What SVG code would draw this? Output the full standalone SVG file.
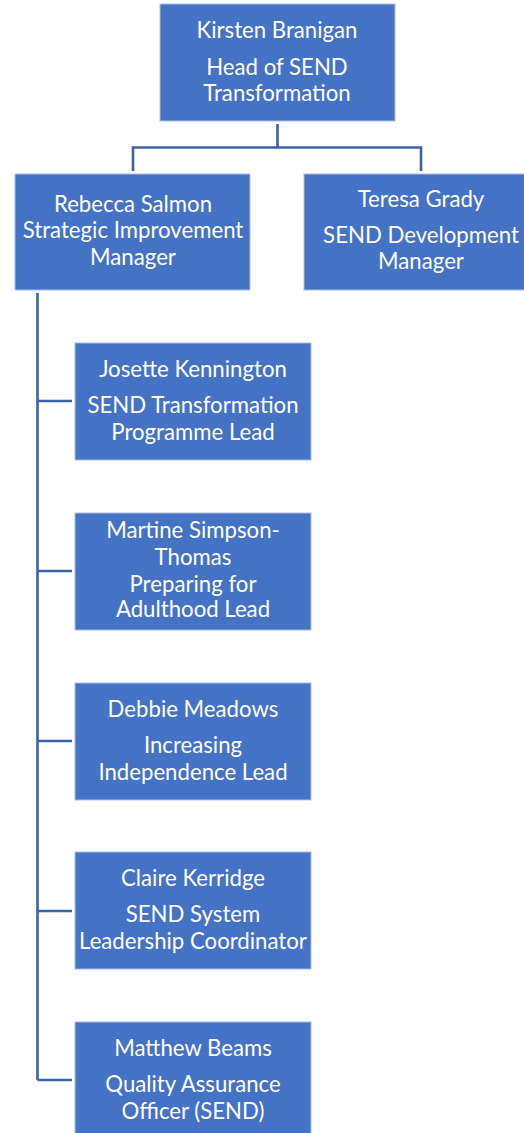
<svg xmlns="http://www.w3.org/2000/svg" width="524" height="1133" viewBox="0 0 524 1133">
<style>
.box{fill:#4472C4;stroke:#A9BEE4;stroke-width:1}
.t{font-family:Lato,"Liberation Sans",sans-serif;font-size:22.2px;fill:#FFFFFF;text-anchor:middle}
.c{fill:none;stroke:#3B62AC;stroke-width:2.6}
</style>
<rect width="524" height="1133" fill="#FFFFFF"/>
<g id="connectors">
<path class="c" d="M277.5 124 V147.5 M133 171 V147.5 H421 V171"/>
<path class="c" d="M37.5 293 V1080 M37.5 401 H72 M37.5 571 H72 M37.5 741 H72 M37.5 911 H72 M37.5 1080 H72"/>
</g>
<g id="kirsten">
<rect class="box" x="160" y="4" width="235" height="117"/>
<text class="t" x="277" y="38">Kirsten Branigan</text>
<text class="t" x="277" y="75">Head of SEND</text>
<text class="t" x="277" y="101">Transformation</text>
</g>
<g id="rebecca">
<rect class="box" x="15" y="174" width="235" height="116"/>
<text class="t" x="133" y="212">Rebecca Salmon</text>
<text class="t" x="133" y="238">Strategic Improvement</text>
<text class="t" x="133" y="265">Manager</text>
</g>
<g id="teresa">
<rect class="box" x="304" y="174" width="235" height="116"/>
<text class="t" x="421" y="207">Teresa Grady</text>
<text class="t" x="421" y="243">SEND Development</text>
<text class="t" x="421" y="269">Manager</text>
</g>
<g id="josette">
<rect class="box" x="75" y="343" width="236" height="117"/>
<text class="t" x="193" y="377">Josette Kennington</text>
<text class="t" x="193" y="413">SEND Transformation</text>
<text class="t" x="193" y="440">Programme Lead</text>
</g>
<g id="martine">
<rect class="box" x="75" y="513" width="236" height="117"/>
<text class="t" x="193" y="538">Martine Simpson-</text>
<text class="t" x="193" y="565">Thomas</text>
<text class="t" x="193" y="592">Preparing for</text>
<text class="t" x="193" y="617">Adulthood Lead</text>
</g>
<g id="debbie">
<rect class="box" x="75" y="683" width="236" height="117"/>
<text class="t" x="193" y="717">Debbie Meadows</text>
<text class="t" x="193" y="753">Increasing</text>
<text class="t" x="193" y="780">Independence Lead</text>
</g>
<g id="claire">
<rect class="box" x="75" y="852" width="236" height="117"/>
<text class="t" x="193" y="886">Claire Kerridge</text>
<text class="t" x="193" y="922">SEND System</text>
<text class="t" x="193" y="949">Leadership Coordinator</text>
</g>
<g id="matthew">
<rect class="box" x="75" y="1022" width="236" height="117"/>
<text class="t" x="193" y="1056">Matthew Beams</text>
<text class="t" x="193" y="1092">Quality Assurance</text>
<text class="t" x="193" y="1119">Officer (SEND)</text>
</g>
</svg>
